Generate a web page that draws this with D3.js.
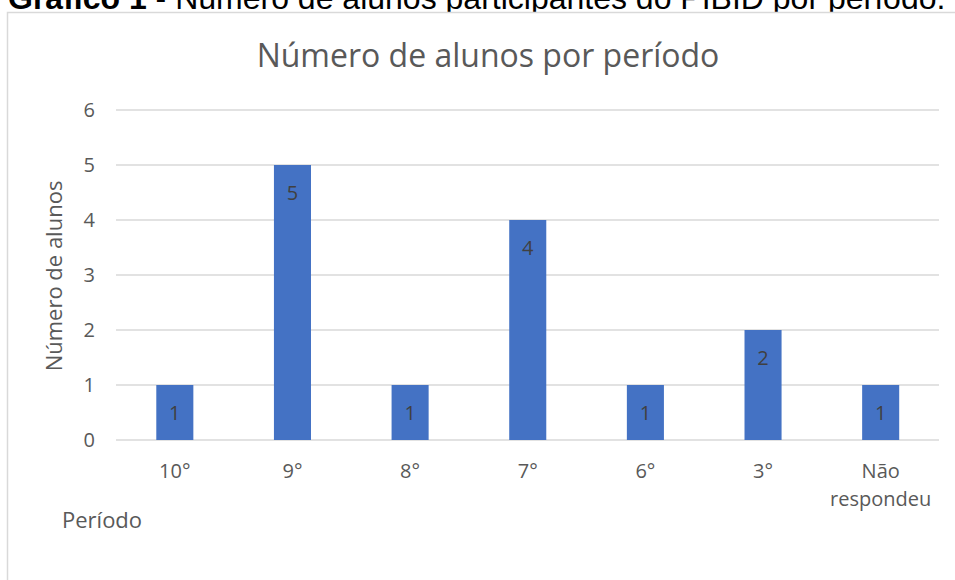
<!DOCTYPE html>
<html>
<head>
<meta charset="utf-8">
<script src="https://cdn.jsdelivr.net/npm/d3@7"></script>
<style>
  body { margin: 0; background: #fff; }
  svg { display: block; }
</style>
</head>
<body>
<script>
// data
var periodos = ["10°", "9°", "8°", "7°", "6°", "3°", "Não respondeu"];
var alunos = [1, 5, 1, 4, 1, 2, 1];
var yTicks = [0, 1, 2, 3, 4, 5, 6];

var w = 955, h = 580;
var font = "'Open Sans', 'Noto Sans', sans-serif";

var svg = d3.select("body").append("svg")
  .attr("width", w)
  .attr("height", h);

// caption of the document, cut by the top edge like in the scan
var cap = svg.append("text")
  .attr("x", 8)
  .attr("y", 9)
  .attr("font-family", "'Liberation Sans', Arial, sans-serif")
  .attr("font-size", 32)
  .attr("fill", "#000");
cap.append("tspan").attr("font-weight", "bold").text("Gráfico 1");
cap.append("tspan").text(" - Número de alunos participantes do PIBID por período.");

// chart frame
svg.append("rect")
  .attr("x", 7.5).attr("y", 12.5)
  .attr("width", 960).attr("height", 580)
  .attr("fill", "#fff")
  .attr("stroke", "#d9d9d9")
  .attr("stroke-width", 1.5);

var x = d3.scaleBand()
  .domain(periodos)
  .range([116, 939.5])
  .paddingInner(0.685)
  .paddingOuter(0.3425);

var y = d3.scaleLinear()
  .domain([0, 6])
  .range([440, 110]);

// gridlines
svg.append("g")
  .selectAll("line")
  .data(yTicks)
  .enter()
  .append("line")
  .attr("x1", 116)
  .attr("x2", 939)
  .attr("y1", d => y(d))
  .attr("y2", d => y(d))
  .attr("stroke", "#d9d9d9")
  .attr("stroke-width", 1.5);

// y axis
var yAxis = svg.append("g")
  .attr("transform", "translate(95,0)")
  .call(d3.axisLeft(y).tickValues(yTicks).tickFormat(d3.format("d")).tickSize(0).tickPadding(0));
yAxis.select(".domain").remove();
yAxis.selectAll("text")
  .attr("font-family", font)
  .attr("font-size", 20)
  .attr("fill", "#595959");

// bars
svg.append("g")
  .selectAll("rect")
  .data(alunos)
  .enter()
  .append("rect")
  .attr("x", (d, i) => x(periodos[i]))
  .attr("y", d => y(d))
  .attr("width", x.bandwidth())
  .attr("height", d => y(0) - y(d))
  .attr("fill", "#4472c4");

// value labels inside end
svg.append("g")
  .selectAll("text")
  .data(alunos)
  .enter()
  .append("text")
  .attr("x", (d, i) => x(periodos[i]) + x.bandwidth() / 2)
  .attr("y", d => y(d) + 35)
  .attr("text-anchor", "middle")
  .attr("font-family", font)
  .attr("font-size", 20)
  .attr("fill", "#404040")
  .text(d => d);

// x axis
var xAxis = svg.append("g")
  .attr("transform", "translate(0,440)")
  .call(d3.axisBottom(x).tickSize(0).tickPadding(0));
xAxis.select(".domain").remove();
xAxis.selectAll("text").remove();
xAxis.selectAll(".tick").each(function(d) {
  var t = d3.select(this).append("text")
    .attr("text-anchor", "middle")
    .attr("font-family", font)
    .attr("font-size", 20)
    .attr("fill", "#595959");
  var parts = d === "Não respondeu" ? ["Não", "respondeu"] : [d];
  parts.forEach((p, i) => {
    t.append("tspan").attr("x", 0).attr("y", 38 + i * 28).text(p);
  });
});

// title
svg.append("text")
  .attr("x", 488)
  .attr("y", 67)
  .attr("text-anchor", "middle")
  .attr("font-family", font)
  .attr("font-size", 32)
  .attr("fill", "#595959")
  .text("Número de alunos por período");

// axis titles
svg.append("text")
  .attr("transform", "translate(62,276) rotate(-90)")
  .attr("text-anchor", "middle")
  .attr("font-family", font)
  .attr("font-size", 22)
  .attr("fill", "#595959")
  .text("Número de alunos");

svg.append("text")
  .attr("x", 62)
  .attr("y", 528)
  .attr("font-family", font)
  .attr("font-size", 22)
  .attr("fill", "#595959")
  .text("Período");
</script>
</body>
</html>
